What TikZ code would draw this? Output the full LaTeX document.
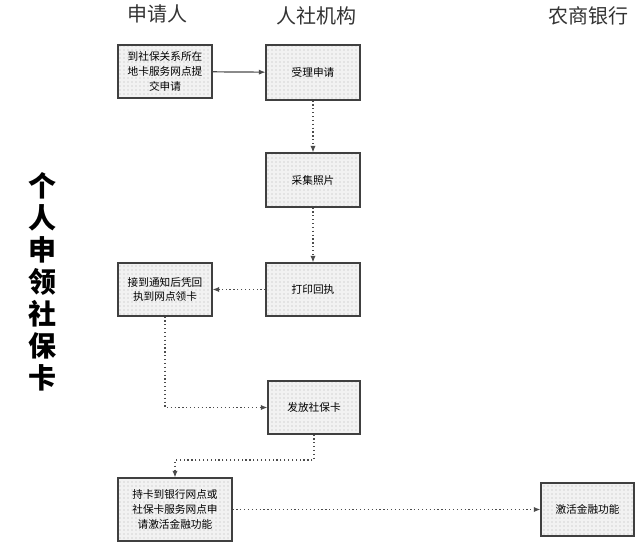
\documentclass[tikz,border=0pt]{standalone}
\usepackage{fontspec}
\setmainfont{Noto Sans CJK SC}
\usetikzlibrary{patterns,arrows.meta}
\tikzset{
 box/.style={draw=black!75,line width=0.8pt,preaction={fill=black!5},pattern=dots,pattern color=black!30,align=center,font=\fontsize{8}{11}\selectfont,inner sep=2pt},
 conn/.style={draw=black!70,line width=0.9pt,dotted,-{Latex[length=5pt,width=4pt]}},
 hdr/.style={font=\fontsize{15}{17}\selectfont,text=black!80}
}
\begin{document}
\begin{tikzpicture}[x=0.75pt,y=-0.75pt]
\useasboundingbox (0,0) rectangle (640,546);
\newcommand{\bx}[6]{\node[box,minimum width=#4*0.75pt,minimum height=#5*0.75pt] (#1) at (#2,#3) {#6};}
\node[hdr] (h1) at (157,14) {申请人};
\node[hdr] (h2) at (316,16) {人社机构};
\node[hdr] (h3) at (588,16) {农商银行};
\node[font=\bfseries\fontsize{21}{24}\selectfont,align=center] (v) at (42,282) {个\\人\\申\\领\\社\\保\\卡};
\bx{b1}{165}{71.5}{94}{53}{到社保关系所在\\地卡服务网点提\\交申请}
\bx{b2}{313}{72.5}{94}{55}{受理申请}
\bx{b3}{313}{180}{94}{54}{采集照片}
\bx{b4}{313}{289.5}{94}{53}{打印回执}
\bx{b5}{165}{289.5}{94}{53}{接到通知后凭回\\执到网点领卡}
\bx{b6}{314}{407.5}{92}{53}{发放社保卡}
\bx{b7}{175}{509.5}{114}{63}{持卡到银行网点或\\社保卡服务网点申\\请激活金融功能}
\bx{b8}{587.5}{509.5}{93}{53}{激活金融功能}
\draw[conn,solid] (b1) -- (b2);
\draw[conn] (b2) -- (b3);
\draw[conn] (b3) -- (b4);
\draw[conn] (b4) -- (b5);
\draw[conn] (b5.south) |- (b6.west);
\coordinate (m) at (314,460);
\draw[conn] (b6.south) -- (m) -| (b7.north);
\draw[conn] (b7) -- (b8);
\end{tikzpicture}
\end{document}
